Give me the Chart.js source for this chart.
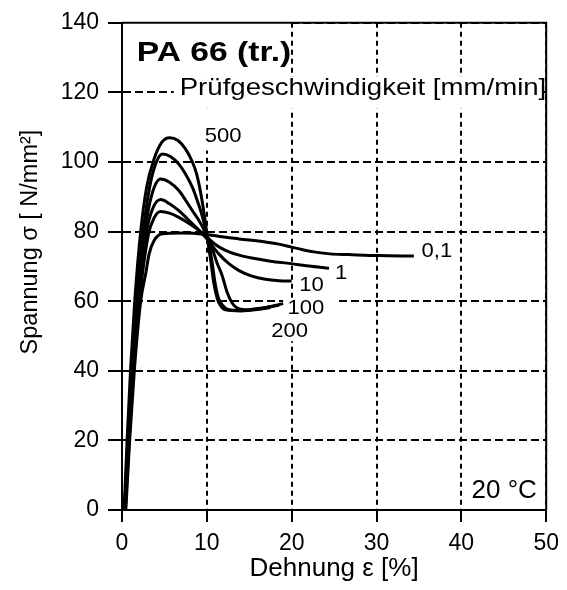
<!DOCTYPE html>
<html>
<head>
<meta charset="utf-8">
<script src="https://cdn.jsdelivr.net/npm/chart.js@4.4.1/dist/chart.umd.min.js"></script>
<style>
  html, body { margin: 0; padding: 0; background: #fff; }
  #wrap { width: 567px; height: 590px; }
</style>
</head>
<body>
<div id="wrap"><canvas id="c" width="567" height="590"></canvas></div>
<script>
const FONT = '"Liberation Sans", Arial, Helvetica, sans-serif';

// Test speeds [mm/min] and their curve labels
const rateLabels = ['0,1', '1', '10', '100', '200', '500'];

// Stress-strain curves, strain ε [%] and stress σ [N/mm²]
const strain01 = [0.45, 0.9, 1.45, 2.2, 2.8, 3.2, 3.8, 4.75, 7, 9.9, 11.5, 13.8, 16.9, 18.5, 19.9, 21.3, 22.8, 24.5, 26.7, 30.3, 34.4];
const stress01 = [0, 20, 40, 60, 68, 73.6, 77.5, 79.4, 79.6, 79.2, 78.6, 77.9, 77, 76.4, 75.6, 74.8, 74.1, 73.6, 73.4, 73.1, 73];

const strain1 = [0.4, 0.85, 1.35, 2.05, 3.1, 3.8, 4.55, 5.6, 6.7, 8, 9.1, 10, 11, 12.2, 13.7, 15.3, 17.5, 19.9, 22, 24.4];
const stress1 = [0, 20, 40, 60, 79, 84, 85.8, 85.3, 84.1, 82.2, 80.3, 78.4, 76.3, 74.6, 73.3, 72.4, 71.5, 70.8, 70.1, 69.5];

const strain10 = [0.35, 0.8, 1.3, 1.95, 2.9, 3.6, 4.55, 5.6, 6.7, 7.7, 8.7, 9.9, 11.4, 12.6, 13.8, 15.3, 16.9, 18.5, 20];
const stress10 = [0, 20, 40, 60, 80, 86.5, 89.2, 88, 86, 83.7, 81.3, 78.2, 73.6, 70.8, 68.8, 67.2, 66.3, 65.9, 65.8];

const strain100 = [0.3, 0.75, 1.25, 1.85, 2.7, 3.5, 4.55, 5.6, 6.7, 7.5, 8.3, 9.0, 9.5, 10.5, 11.2, 11.8, 12.4, 13.0, 13.6, 15, 17, 19];
const stress100 = [0, 20, 40, 60, 80, 90.5, 95.1, 94.2, 91.8, 89, 86, 83.5, 81.3, 76, 71, 67.4, 62.5, 59.4, 58, 57.5, 58.2, 59.3];

const strain200 = [0.3, 0.7, 1.15, 1.7, 2.5, 3.2, 3.9, 4.75, 5.7, 6.7, 7.5, 8.3, 9.0, 9.5, 10.2, 10.6, 10.95, 11.35, 11.8, 12.5, 14, 16, 18.5];
const stress200 = [0, 20, 40, 60, 80, 92, 99, 102.3, 101.6, 99.4, 96.5, 92.7, 88, 84.1, 77, 71.5, 65.5, 61, 59, 57.6, 57.3, 57.9, 58.8];

const strain500 = [0.25, 0.6, 1.0, 1.5, 2.2, 2.9, 3.8, 4.7, 5.6, 6.6, 7.5, 8.3, 8.8, 9.3, 9.8, 10.1, 10.5, 10.8, 11.2, 11.6, 12.2, 14, 16, 17.5];
const stress500 = [0, 20, 40, 60, 80, 92.7, 101, 105.7, 107, 106.2, 103.7, 100, 96.5, 90.8, 83.2, 77.5, 71, 65.5, 61, 58.8, 57.5, 57.2, 57.6, 58.2];

// Axis ticks
const strainTicks = [0, 10, 20, 30, 40, 50];
const stressTicks = [0, 20, 40, 60, 80, 100, 120, 140];

const curves = [
  [strain01, stress01], [strain1, stress1], [strain10, stress10],
  [strain100, stress100], [strain200, stress200], [strain500, stress500]
];

const toPoints = (xs, ys) => xs.map((v, i) => ({ x: v, y: ys[i] }));

// White panels that keep the grid out from under the captions (data coords: ε0, ε1, σ0, σ1)
const panels = [
  [0.2, 19.4, 140, 124.5],
  [6.1, 49.7, 124.5, 115.3],
  [8.9, 14.7, 115.3, 103.3],
  [19.0, 25.5, 60.8, 55.5],
  [17.2, 22.0, 54.8, 48.5]
];

// Captions: text, ε, σ (left / middle anchor), font, horizontal scale
const captions = [
  ['PA 66 (tr.)', 1.75, 131.1, 'bold 28px ' + FONT, 1.2],
  ['Prüfgeschwindigkeit [mm/min]', 6.8, 121.3, '24px ' + FONT, 1.15],
  [rateLabels[5], 9.75, 107.3, '21px ' + FONT, 1.05],
  [rateLabels[0], 35.3, 74.3, '21px ' + FONT, 1.05],
  [rateLabels[1], 25.1, 68.0, '21px ' + FONT, 1.05],
  [rateLabels[2], 20.9, 64.5, '21px ' + FONT, 1.05],
  [rateLabels[3], 19.5, 57.9, '21px ' + FONT, 1.05],
  [rateLabels[4], 17.6, 51.3, '21px ' + FONT, 1.05],
  ['20 °C', 41.2, 5.45, '26px ' + FONT, 1.0]
];

const decor = {
  id: 'decor',
  beforeDatasetsDraw(chart) {
    const { ctx, scales: { x, y } } = chart;
    ctx.save();
    ctx.fillStyle = '#fff';
    for (const p of panels) {
      const x0 = x.getPixelForValue(p[0]), x1 = x.getPixelForValue(p[1]);
      const y0 = y.getPixelForValue(p[2]), y1 = y.getPixelForValue(p[3]);
      ctx.fillRect(Math.min(x0, x1), Math.min(y0, y1), Math.abs(x1 - x0), Math.abs(y1 - y0));
    }
    // closing frame: top and right edges
    const L = x.getPixelForValue(0), R = x.getPixelForValue(50);
    const T = y.getPixelForValue(140), B = y.getPixelForValue(0);
    ctx.strokeStyle = '#000';
    ctx.lineWidth = 2;
    ctx.setLineDash([]);
    ctx.beginPath();
    ctx.moveTo(L, T); ctx.lineTo(R, T); ctx.lineTo(R, B);
    ctx.stroke();
    ctx.restore();
  },
  afterDatasetsDraw(chart) {
    const { ctx, scales: { x, y } } = chart;
    ctx.save();
    ctx.fillStyle = '#000';
    ctx.textBaseline = 'middle';
    ctx.textAlign = 'left';
    for (const c of captions) {
      ctx.save();
      ctx.font = c[3];
      ctx.translate(x.getPixelForValue(c[1]), y.getPixelForValue(c[2]));
      ctx.scale(c[4], 1);
      ctx.fillText(c[0], 0, 0);
      ctx.restore();
    }
    // stress axis title
    ctx.save();
    ctx.font = '23.5px ' + FONT;
    ctx.textAlign = 'center';
    ctx.translate(31, y.getPixelForValue(77));
    ctx.rotate(-Math.PI / 2);
    ctx.fillText('Spannung σ [ N/mm²]', 0, 0);
    ctx.restore();
    ctx.restore();
  }
};

Chart.defaults.color = '#000';
Chart.defaults.font.family = FONT;

new Chart(document.getElementById('c'), {
  type: 'line',
  data: {
    datasets: curves.map((c, i) => ({
      label: rateLabels[i],
      data: toPoints(c[0], c[1]),
      borderColor: '#000',
      borderWidth: 3,
      pointRadius: 0,
      fill: false,
      cubicInterpolationMode: 'monotone'
    }))
  },
  options: {
    responsive: false,
    animation: false,
    devicePixelRatio: 1,
    layout: { padding: { top: 22, right: 19, left: 0, bottom: 0 } },
    plugins: { legend: { display: false }, tooltip: { enabled: false } },
    scales: {
      x: {
        type: 'linear',
        min: strainTicks[0],
        max: strainTicks[strainTicks.length - 1],
        afterBuildTicks: s => { s.ticks = strainTicks.map(v => ({ value: v })); },
        afterFit: s => { s.height = 80; },
        grid: { color: '#000', lineWidth: 2, tickLength: 12, tickWidth: 2, tickColor: '#000', tickBorderDash: [] },
        border: { display: true, color: '#000', width: 2, dash: [5, 4] },
        ticks: { font: { size: 23 }, padding: 8, color: '#000' },
        title: { display: true, text: 'Dehnung ε [%]', font: { size: 26 }, color: '#000', padding: { top: 0, bottom: 6 } }
      },
      y: {
        type: 'linear',
        min: stressTicks[0],
        max: stressTicks[stressTicks.length - 1],
        afterBuildTicks: s => { s.ticks = stressTicks.map(v => ({ value: v })); },
        afterFit: s => { s.width = 122; },
        grid: { color: '#000', lineWidth: 2, tickLength: 14, tickWidth: 2, tickColor: '#000', tickBorderDash: [] },
        border: { display: true, color: '#000', width: 2, dash: [8, 4] },
        ticks: { font: { size: 23 }, padding: 9, color: '#000' }
      }
    }
  },
  plugins: [decor]
});
</script>
</body>
</html>
